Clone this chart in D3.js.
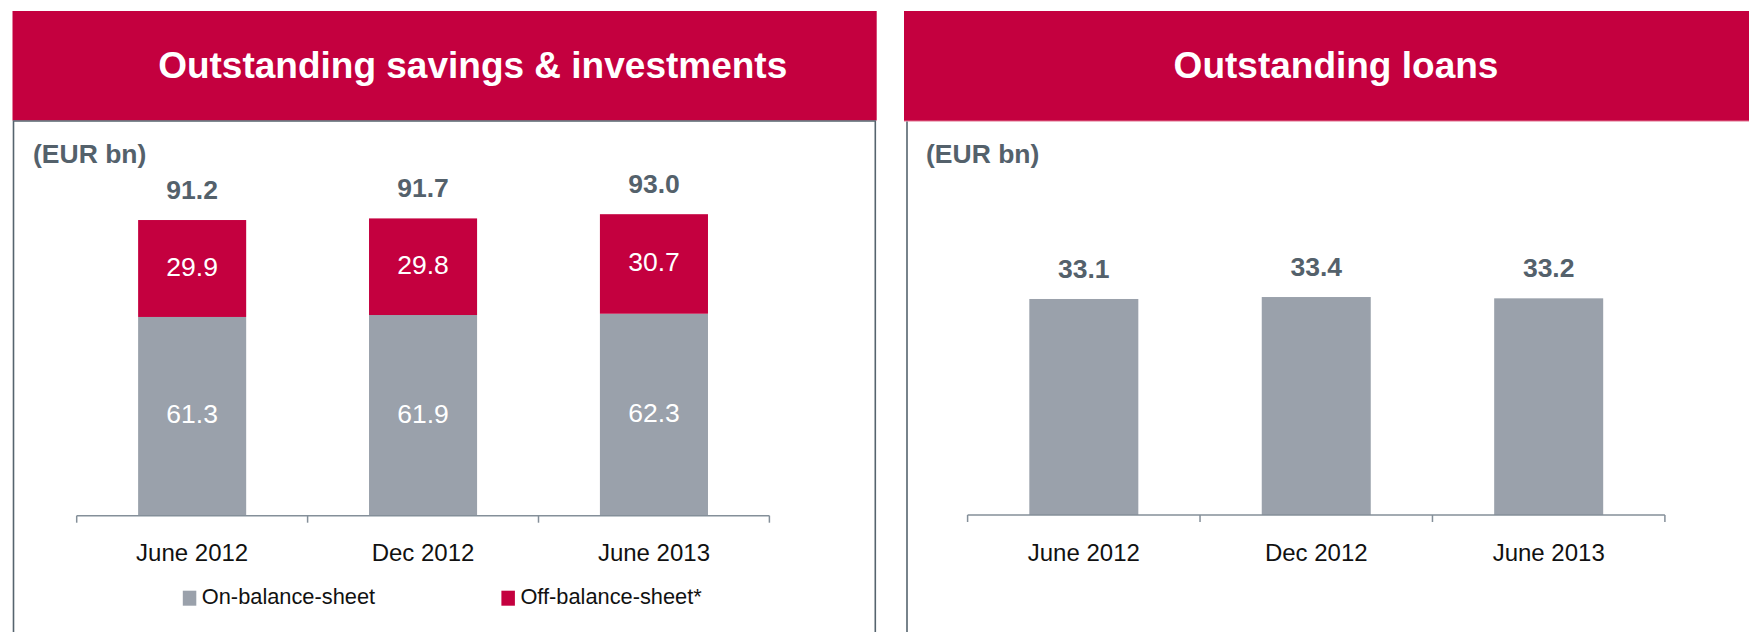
<!DOCTYPE html>
<html>
<head>
<meta charset="utf-8">
<script src="https://cdn.jsdelivr.net/npm/d3@7"></script>
<style>
  html, body { margin: 0; padding: 0; background: #fff; }
  svg { display: block; font-family: "Liberation Sans", Arial, sans-serif; }
</style>
</head>
<body>
<svg id="chart" width="1749" height="632"></svg>
<script>
// ---- Data ----
const categories = ["June 2012", "Dec 2012", "June 2013"];
const onBalance  = [61.3, 61.9, 62.3];
const offBalance = [29.9, 29.8, 30.7];
const savingsTotals = [91.2, 91.7, 93.0];
const loans = [33.1, 33.4, 33.2];
const seriesNames = ["On-balance-sheet", "Off-balance-sheet*"];
const titles = ["Outstanding savings & investments", "Outstanding loans"];
const unitLabel = "(EUR bn)";

// ---- Styles ----
const RED = "#C4003F";
const GREY = "#9AA1AB";
const LABEL = "#54616B";
const BORDER = "#56646E";
const AXIS = "#848F99";

const svg = d3.select("#chart");

// ---- Panels ----
// left header
svg.append("rect").attr("x", 12.5).attr("y", 11).attr("width", 864.2).attr("height", 109.5).attr("fill", RED);
svg.append("path")
  .attr("d", "M13.5,632 L13.5,121 L875.3,121 L875.3,632")
  .attr("fill", "none").attr("stroke", BORDER).attr("stroke-width", 1.6);
svg.append("text").attr("x", 472.7).attr("y", 78).attr("text-anchor", "middle")
  .attr("fill", "#fff").attr("font-weight", "bold").attr("font-size", 37).text(titles[0]);

// right header
svg.append("rect").attr("x", 904).attr("y", 11).attr("width", 845).attr("height", 110).attr("fill", RED);
svg.append("line").attr("x1", 904).attr("x2", 1749).attr("y1", 121).attr("y2", 121)
  .attr("stroke", "#E0708E").attr("stroke-width", 1);
svg.append("line").attr("x1", 907).attr("x2", 907).attr("y1", 121.5).attr("y2", 632)
  .attr("stroke", BORDER).attr("stroke-width", 1.6);
svg.append("text").attr("x", 1336).attr("y", 77.5).attr("text-anchor", "middle")
  .attr("fill", "#fff").attr("font-weight", "bold").attr("font-size", 37).text(titles[1]);

// unit labels
[33, 926].forEach(x => {
  svg.append("text").attr("x", x).attr("y", 163).attr("fill", LABEL)
    .attr("font-weight", "bold").attr("font-size", 26.5).text(unitLabel);
});

function drawAxis(g, x, y0) {
  const [r0, r1] = x.range();
  g.append("line").attr("x1", r0).attr("x2", r1).attr("y1", y0).attr("y2", y0)
    .attr("stroke", AXIS).attr("stroke-width", 1.5);
  const bounds = [r0].concat(categories.map(c => x(c) - x.step() * x.paddingInner() / 2 + x.step()));
  bounds[bounds.length - 1] = r1;
  g.selectAll("line.tick").data(bounds).join("line").attr("class", "tick")
    .attr("x1", d => d).attr("x2", d => d).attr("y1", y0).attr("y2", y0 + 7)
    .attr("stroke", AXIS).attr("stroke-width", 1.5);
  g.selectAll("text.cat").data(categories).join("text").attr("class", "cat")
    .attr("x", d => x(d) + x.bandwidth() / 2).attr("y", 561)
    .attr("text-anchor", "middle").attr("font-size", 24).attr("fill", "#111").text(d => d);
}

// ---- Left chart (stacked) ----
{
  const g = svg.append("g");
  const x = d3.scaleBand().domain(categories).range([76.7, 769.4]).paddingInner(0.532).paddingOuter(0.266);
  const y = d3.scaleLinear().domain([0, 100]).range([515.7, 515.7 - 324.2]);
  const rows = categories.map((c, i) => ({ c, on: onBalance[i], off: offBalance[i], total: savingsTotals[i] }));
  const stack = d3.stack().keys(["on", "off"])(rows);
  const colors = [GREY, RED];
  stack.forEach((layer, li) => {
    g.selectAll(null).data(layer).join("rect")
      .attr("x", d => x(d.data.c)).attr("width", x.bandwidth())
      .attr("y", d => y(d[1])).attr("height", d => y(d[0]) - y(d[1]))
      .attr("fill", colors[li]);
    g.selectAll(null).data(layer).join("text")
      .attr("x", d => x(d.data.c) + x.bandwidth() / 2)
      .attr("y", d => (y(d[0]) + y(d[1])) / 2)
      .attr("dy", "0.27em").attr("text-anchor", "middle")
      .attr("fill", "#fff").attr("font-size", 26.5)
      .text(d => (d[1] - d[0]).toFixed(1));
  });
  g.selectAll(null).data(rows).join("text")
    .attr("x", d => x(d.c) + x.bandwidth() / 2).attr("y", d => y(d.total) - 21)
    .attr("text-anchor", "middle").attr("fill", LABEL).attr("font-weight", "bold").attr("font-size", 26.5)
    .text(d => d.total.toFixed(1));
  drawAxis(g, x, 515.7);

  // legend
  const legend = [{ name: seriesNames[0], color: GREY, x: 182.8 }, { name: seriesNames[1], color: RED, x: 501.4 }];
  legend.forEach(l => {
    g.append("rect").attr("x", l.x).attr("y", 590.7).attr("width", 13.5).attr("height", 15).attr("fill", l.color);
    g.append("text").attr("x", l.x + 19).attr("y", 604).attr("font-size", 21.8).attr("fill", "#111").text(l.name);
  });
}

// ---- Right chart ----
{
  const g = svg.append("g");
  const x = d3.scaleBand().domain(categories).range([967.6, 1664.9]).paddingInner(0.531).paddingOuter(0.2655);
  const y = d3.scaleLinear().domain([0, 40]).range([515, 515 - 261.04]);
  g.selectAll(null).data(loans).join("rect")
    .attr("x", (d, i) => x(categories[i])).attr("width", x.bandwidth())
    .attr("y", d => y(d)).attr("height", d => y(0) - y(d)).attr("fill", GREY);
  g.selectAll(null).data(loans).join("text")
    .attr("x", (d, i) => x(categories[i]) + x.bandwidth() / 2).attr("y", d => y(d) - 21)
    .attr("text-anchor", "middle").attr("fill", LABEL).attr("font-weight", "bold").attr("font-size", 26.5)
    .text(d => d.toFixed(1));
  drawAxis(g, x, 515);
}
</script>
</body>
</html>
